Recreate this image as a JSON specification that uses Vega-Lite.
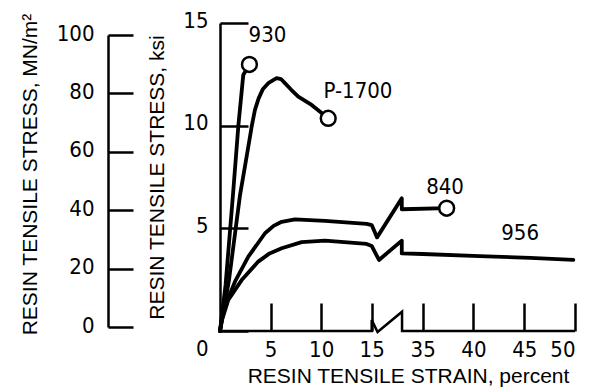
{
  "$schema": "https://vega.github.io/schema/vega-lite/v6.json",
  "width": 355,
  "height": 308,
  "autosize": "none",
  "padding": {"left": 220, "top": 23, "right": 15, "bottom": 61},
  "config": {
    "view": {"stroke": null},
    "font": "Liberation Sans",
    "axis": {
      "domainColor": "black", "domainWidth": 2.5, "tickColor": "black", "tickWidth": 2.5,
      "labelColor": "black", "titleColor": "black", "grid": false,
      "labelFont": "DejaVu Sans Condensed, Liberation Sans", "labelFontSize": 22,
      "titleFont": "Liberation Sans", "titleFontSize": 21, "titleFontWeight": "normal"
    }
  },
  "datasets": {
    "curves": [
      {"series": "930", "i": 0, "strain": 0, "ksi": 0},
      {"series": "930", "i": 1, "strain": 0.55, "ksi": 2.24},
      {"series": "930", "i": 2, "strain": 1.28, "ksi": 6.62},
      {"series": "930", "i": 3, "strain": 1.82, "ksi": 10.03},
      {"series": "930", "i": 4, "strain": 2.3, "ksi": 12.47},
      {"series": "930", "i": 5, "strain": 2.91, "ksi": 12.98},
      {"series": "P-1700", "i": 0, "strain": 0, "ksi": 0},
      {"series": "P-1700", "i": 1, "strain": 0.89, "ksi": 2.48},
      {"series": "P-1700", "i": 2, "strain": 1.98, "ksi": 6.62},
      {"series": "P-1700", "i": 3, "strain": 2.66, "ksi": 8.57},
      {"series": "P-1700", "i": 4, "strain": 3.13, "ksi": 9.95},
      {"series": "P-1700", "i": 5, "strain": 3.45, "ksi": 10.76},
      {"series": "P-1700", "i": 6, "strain": 3.82, "ksi": 11.33},
      {"series": "P-1700", "i": 7, "strain": 4.25, "ksi": 11.79},
      {"series": "P-1700", "i": 8, "strain": 4.77, "ksi": 12.07},
      {"series": "P-1700", "i": 9, "strain": 5.6, "ksi": 12.31},
      {"series": "P-1700", "i": 10, "strain": 6.03, "ksi": 12.27},
      {"series": "P-1700", "i": 11, "strain": 6.42, "ksi": 12.07},
      {"series": "P-1700", "i": 12, "strain": 7.02, "ksi": 11.76},
      {"series": "P-1700", "i": 13, "strain": 7.74, "ksi": 11.41},
      {"series": "P-1700", "i": 14, "strain": 9.06, "ksi": 11.01},
      {"series": "P-1700", "i": 15, "strain": 10.7, "ksi": 10.36},
      {"series": "840", "i": 0, "strain": 0, "ksi": 0},
      {"series": "840", "i": 1, "strain": 0.2, "ksi": 0.63},
      {"series": "840", "i": 2, "strain": 0.49, "ksi": 1.2},
      {"series": "840", "i": 3, "strain": 1.48, "ksi": 2.4},
      {"series": "840", "i": 4, "strain": 2.8, "ksi": 3.62},
      {"series": "840", "i": 5, "strain": 4.45, "ksi": 4.76},
      {"series": "840", "i": 6, "strain": 5.3, "ksi": 5.12},
      {"series": "840", "i": 7, "strain": 6.1, "ksi": 5.32},
      {"series": "840", "i": 8, "strain": 7.41, "ksi": 5.44},
      {"series": "840", "i": 9, "strain": 10.38, "ksi": 5.36},
      {"series": "840", "i": 10, "strain": 14.5, "ksi": 5.22},
      {"series": "840", "i": 11, "strain": 15, "ksi": 5.16},
      {"series": "840", "i": 12, "strain": 17.1, "ksi": 4.56},
      {"series": "840", "i": 13, "strain": 26.8, "ksi": 6.46},
      {"series": "840", "i": 14, "strain": 26.8, "ksi": 5.93},
      {"series": "840", "i": 15, "strain": 37.36, "ksi": 5.98},
      {"series": "956", "i": 0, "strain": 0, "ksi": 0},
      {"series": "956", "i": 1, "strain": 0.2, "ksi": 0.54},
      {"series": "956", "i": 2, "strain": 0.82, "ksi": 1.51},
      {"series": "956", "i": 3, "strain": 2.14, "ksi": 2.48},
      {"series": "956", "i": 4, "strain": 3.78, "ksi": 3.38},
      {"series": "956", "i": 5, "strain": 4.9, "ksi": 3.78},
      {"series": "956", "i": 6, "strain": 6.1, "ksi": 4.03},
      {"series": "956", "i": 7, "strain": 8.07, "ksi": 4.33},
      {"series": "956", "i": 8, "strain": 10.38, "ksi": 4.4},
      {"series": "956", "i": 9, "strain": 14.5, "ksi": 4.24},
      {"series": "956", "i": 10, "strain": 15, "ksi": 4.14},
      {"series": "956", "i": 11, "strain": 17.86, "ksi": 3.46},
      {"series": "956", "i": 12, "strain": 26.8, "ksi": 4.4},
      {"series": "956", "i": 13, "strain": 26.8, "ksi": 3.78},
      {"series": "956", "i": 14, "strain": 35, "ksi": 3.75},
      {"series": "956", "i": 15, "strain": 40.6, "ksi": 3.65},
      {"series": "956", "i": 16, "strain": 45.6, "ksi": 3.56},
      {"series": "956", "i": 17, "strain": 49.84, "ksi": 3.46}
    ],
    "baseline": [
      {"i": 0, "strain": 0, "ksi": 0},
      {"i": 1, "strain": 15, "ksi": 0},
      {"i": 2, "strain": 15, "ksi": 0.54},
      {"i": 3, "strain": 17.3, "ksi": -0.05},
      {"i": 4, "strain": 26.9, "ksi": 0.94},
      {"i": 5, "strain": 26.9, "ksi": 0},
      {"i": 6, "strain": 50, "ksi": 0}
    ],
    "ends": [
      {"series": "930", "strain": 2.91, "ksi": 12.98},
      {"series": "P-1700", "strain": 10.7, "ksi": 10.36},
      {"series": "840", "strain": 37.36, "ksi": 5.98}
    ],
    "names": [
      {"name": "930", "strain": 4.69, "ksi": 14.42},
      {"name": "P-1700", "strain": 13.64, "ksi": 11.69},
      {"name": "840", "strain": 37.2, "ksi": 7.03},
      {"name": "956", "strain": 44.6, "ksi": 4.76}
    ]
  },
  "layer": [
    {
      "mark": {"type": "point", "opacity": 0},
      "encoding": {
        "y": {
          "datum": 0, "type": "quantitative",
          "scale": {"domain": [0, 100], "range": [304, 12], "nice": false, "zero": false},
          "axis": {
            "orient": "left", "offset": 112, "values": [0, 20, 40, 60, 80, 100],
            "tickSize": -25, "labelPadding": 39, "labelOffset": -2,
            "title": "RESIN TENSILE STRESS,  MN/m²",
            "titleAngle": 270, "titleBaseline": "middle", "titleX": -78, "titleY": 151
          }
        }
      }
    },
    {
      "encoding": {
        "x": {
          "field": "strain", "type": "quantitative",
          "scale": {"domain": [0, 15, 35, 50], "range": [0, 151.7, 202.7, 355], "nice": false, "zero": false},
          "axis": {
            "orient": "bottom", "values": [5, 10, 15, 35, 40, 45, 50], "domain": false,
            "tickSize": -28, "labelPadding": 36,
            "title": "RESIN TENSILE STRAIN, percent",
            "titleX": 188, "titleY": 51, "titleBaseline": "alphabetic"
          }
        },
        "y": {
          "field": "ksi", "type": "quantitative",
          "scale": {"domain": [0, 15], "nice": false, "zero": false},
          "axis": {
            "orient": "left", "values": [0, 5, 10, 15],
            "tickSize": -28, "labelPadding": 40,
            "labelOffset": {"condition": {"test": "datum.value === 0", "value": 17}, "value": -3},
            "title": "RESIN TENSILE STRESS, ksi",
            "titleAngle": 270, "titleBaseline": "middle", "titleX": -63
          }
        }
      },
      "layer": [
        {
          "data": {"name": "baseline"},
          "mark": {"type": "line", "color": "black", "strokeWidth": 2.5},
          "encoding": {"order": {"field": "i", "type": "quantitative"}}
        },
        {
          "data": {"name": "curves"},
          "mark": {"type": "line", "color": "black", "strokeWidth": 3.8, "strokeJoin": "round", "strokeCap": "round", "interpolate": "linear"},
          "encoding": {
            "detail": {"field": "series", "type": "nominal"},
            "order": {"field": "i", "type": "quantitative"}
          }
        },
        {
          "data": {"name": "ends"},
          "mark": {"type": "point", "shape": "circle", "size": 220, "filled": false, "fill": "white", "fillOpacity": 1, "stroke": "black", "strokeWidth": 2.5, "opacity": 1}
        },
        {
          "data": {"name": "names"},
          "mark": {"type": "text", "font": "DejaVu Sans Condensed, Liberation Sans", "fontSize": 22, "color": "black", "align": "center", "baseline": "middle"},
          "encoding": {"text": {"field": "name", "type": "nominal"}}
        }
      ]
    }
  ],
  "resolve": {"scale": {"y": "independent"}, "axis": {"y": "independent"}}
}
